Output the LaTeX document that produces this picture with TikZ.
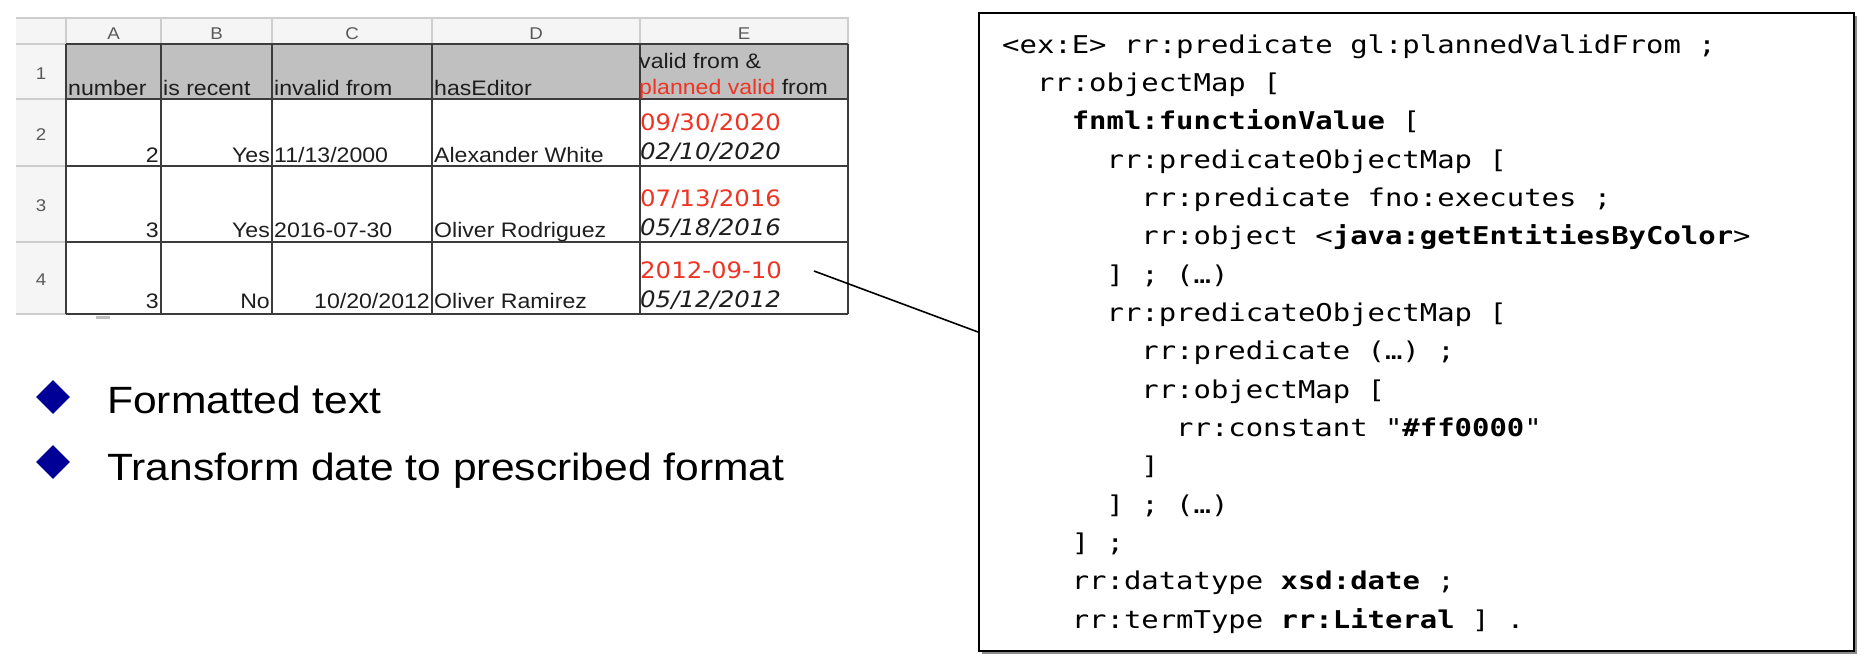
\documentclass[tikz,border=0pt]{standalone}
\usepackage{fontspec}
\usetikzlibrary{shapes.geometric}
\newfontfamily\sheetfont{Liberation Sans}[FakeStretch=1.1]
\newfontfamily\datefont{DejaVu Sans}[FakeStretch=1.08]
\newfontfamily\codefont{DejaVu Sans Mono}[FakeStretch=1.18]
\newfontfamily\bulletfont{Liberation Sans}[FakeStretch=1.12]
\definecolor{sheetred}{RGB}{238,52,36}
\definecolor{hdrgray}{RGB}{192,192,192}
\definecolor{lightfill}{RGB}{245,245,245}
\definecolor{lightline}{RGB}{205,205,205}
\definecolor{gridline}{RGB}{60,60,60}
\definecolor{bulletblue}{RGB}{0,0,150}
\definecolor{textdark}{RGB}{30,30,30}
\begin{document}
\begin{tikzpicture}[x=1pt,y=-1pt,
  cell/.style={inner sep=0pt, anchor=base west, font=\sheetfont\fontsize{21}{25}\selectfont, text=textdark},
  cellr/.style={cell, anchor=base east},
  reddate/.style={inner sep=0pt, anchor=base west, font=\datefont\fontsize{22.6}{27}\selectfont, text=sheetred},
  itdate/.style={inner sep=0pt, anchor=base west, font=\datefont\itshape\fontsize{22.6}{27}\selectfont, text=textdark},
  colhead/.style={inner sep=0pt, anchor=base, font=\sheetfont\fontsize{17}{20}\selectfont, text=black!65},
  rowhead/.style={inner sep=0pt, anchor=center, font=\sheetfont\fontsize{17}{20}\selectfont, text=black!65},
  codeline/.style={inner sep=0pt, anchor=base west, font=\codefont\fontsize{24.5}{29}\selectfont, text=black},
  bullettext/.style={inner sep=0pt, anchor=base west, font=\bulletfont\fontsize{38}{44}\selectfont, text=black},
  bulletmark/.style={diamond, fill=bulletblue, minimum width=34pt, minimum height=34pt, inner sep=0pt},
  thinline/.style={draw=lightline, line width=1.2pt},
  gridl/.style={draw=gridline, line width=1.4pt}]
\useasboundingbox (0,0) rectangle (1869,667);
% ---------- spreadsheet ----------
\fill[lightfill] (16,18) rectangle (848,44);
\fill[lightfill] (16,44) rectangle (66,314);
\fill[hdrgray] (66,44) rectangle (848,99);
\draw[thinline] (16,18) -- (848,18) -- (848,44);
\foreach \xx in {66,161,272,432,640} \draw[thinline] (\xx,18) -- (\xx,44);
\draw[thinline] (16,44) -- (66,44);
\foreach \yy in {99,166,242,314} \draw[thinline] (16,\yy) -- (66,\yy);
\draw[gridl] (66,44) -- (848,44);
\foreach \yy in {99,166,242} \draw[gridl] (66,\yy) -- (848,\yy);
\draw[gridl] (66,314) -- (848,314);
\foreach \xx in {66,161,272,432,640,848} \draw[gridl] (\xx,44) -- (\xx,314);
\fill[black!25] (96,316) rectangle (110,318.5);
% column letters
\node[colhead] (hA) at (113.5,39) {A};
\node[colhead] (hB) at (216.5,39) {B};
\node[colhead] (hC) at (352,39) {C};
\node[colhead] (hD) at (536,39) {D};
\node[colhead] (hE) at (744,39) {E};
% row numbers
\node[rowhead] (r1) at (41,73.5) {1};
\node[rowhead] (r2) at (41,134.5) {2};
\node[rowhead] (r3) at (41,206) {3};
\node[rowhead] (r4) at (41,280) {4};
% header row
\node[cell] (t11) at (68,95) {number};
\node[cell] (t12) at (163,95) {is recent};
\node[cell] (t13) at (274,95) {invalid from};
\node[cell] (t14) at (434,95) {hasEditor};
\node[cell] (t15a) at (639,68) {valid from \&};
\node[cell] (t15b) at (639,94) {\textcolor{sheetred}{planned valid} from};
% row 2
\node[cellr] (t21) at (159,162) {2};
\node[cellr] (t22) at (270,162) {Yes};
\node[cell] (t23) at (274,162) {11/13/2000};
\node[cell] (t24) at (434,162) {Alexander White};
\node[reddate] (t25a) at (640,130) {09/30/2020};
\node[itdate] (t25b) at (640,159) {02/10/2020};
% row 3
\node[cellr] (t31) at (159,237) {3};
\node[cellr] (t32) at (270,237) {Yes};
\node[cell] (t33) at (274,237) {2016-07-30};
\node[cell] (t34) at (434,237) {Oliver Rodriguez};
\node[reddate] (t35a) at (640,206) {07/13/2016};
\node[itdate] (t35b) at (640,235) {05/18/2016};
% row 4
\node[cellr] (t41) at (159,308) {3};
\node[cellr] (t42) at (270,308) {No};
\node[cellr] (t43) at (430,308) {10/20/2012};
\node[cell] (t44) at (434,308) {Oliver Ramirez};
\node[reddate] (t45a) at (640,278) {2012-09-10};
\node[itdate] (t45b) at (640,307) {05/12/2012};
% ---------- bullets ----------
\node[bulletmark] (b1) at (53,397) {};
\node[bulletmark] (b2) at (53,462) {};
\node[bullettext] (bt1) at (107,413) {Formatted text};
\node[bullettext] (bt2) at (107,480) {Transform date to prescribed format};
% ---------- code box ----------
\fill[black!45] (981.5,15.5) rectangle (1856.5,653.5);
\node[draw=black, fill=white, line width=2pt, minimum width=875pt, minimum height=638pt, inner sep=0pt] (box) at (1416.5,332) {};
\coordinate (lnstart) at (814,271);
\draw[line width=1.6pt, black] (lnstart) -- (box.west);
\node[codeline] (c1) at (1002,53) {<ex:E> rr:predicate gl:plannedValidFrom ;};
\node[codeline] (c2) at (1036.8,91.3) {rr:objectMap [};
\node[codeline] (c3) at (1071.6,129.7) {{\bfseries fnml:functionValue} [};
\node[codeline] (c4) at (1106.4,168) {rr:predicateObjectMap [};
\node[codeline] (c5) at (1141.2,206.3) {rr:predicate fno:executes ;};
\node[codeline] (c6) at (1141.2,244.7) {rr:object <{\bfseries java:getEntitiesByColor}>};
\node[codeline] (c7) at (1106.4,283) {] ; (…)};
\node[codeline] (c8) at (1106.4,321.3) {rr:predicateObjectMap [};
\node[codeline] (c9) at (1141.2,359.6) {rr:predicate (…) ;};
\node[codeline] (c10) at (1141.2,398) {rr:objectMap [};
\node[codeline] (c11) at (1176,436.3) {rr:constant "{\bfseries \#ff0000}"};
\node[codeline] (c12) at (1141.2,474.6) {]};
\node[codeline] (c13) at (1106.4,513) {] ; (…)};
\node[codeline] (c14) at (1071.6,551.3) {] ;};
\node[codeline] (c15) at (1071.6,589.6) {rr:datatype {\bfseries xsd:date} ;};
\node[codeline] (c16) at (1071.6,628) {rr:termType {\bfseries rr:Literal} ] .};
\end{tikzpicture}
\end{document}
